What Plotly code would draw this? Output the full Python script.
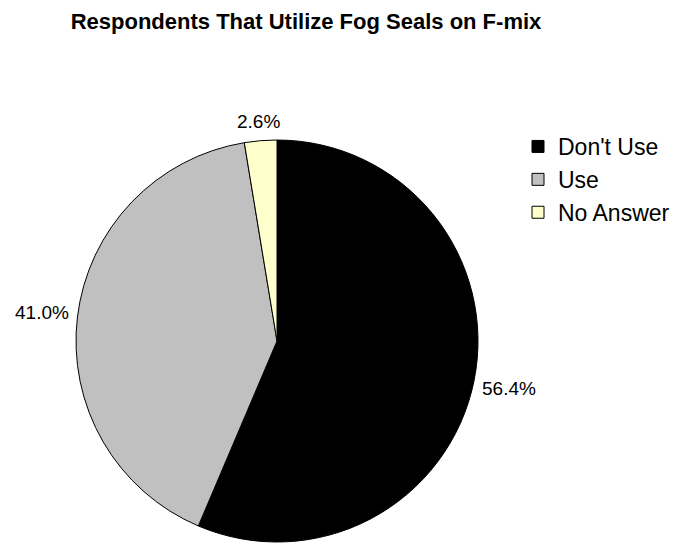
import math
import plotly.graph_objects as go

categories = ["Don't Use", "Use", "No Answer"]
shares = [56.4, 41.0, 2.6]
slice_colors = ["#000000", "#C0C0C0", "#FFFFCC"]

W, H = 680, 544
cx, cy, r = 277, 341, 201  # pie centre and radius in pixels
FONT = "Liberation Sans, Arial, sans-serif"
label_size = 19

fig = go.Figure(
    go.Pie(
        labels=categories,
        values=shares,
        sort=False,
        direction="clockwise",
        rotation=0,
        marker=dict(colors=slice_colors, line=dict(color="#000000", width=1)),
        textinfo="none",
        domain=dict(x=[(cx - r) / W, (cx + r) / W], y=[1 - (cy + r) / H, 1 - (cy - r) / H]),
        hoverinfo="label+percent",
    )
)

# percentage labels placed just outside each slice, at its mid-angle
total = sum(shares)
start = 0.0
annotations = []
for v in shares:
    mid = (start + v / 2) / total * 2 * math.pi  # clockwise from 12 o'clock
    start += v
    text = f"{v:.1f}%"
    half_w = 0.55 * label_size * len(text) / 2
    half_h = label_size / 2
    s, c = math.sin(mid), math.cos(mid)
    d = r + 8.5 + half_w * abs(s) + half_h * abs(c)
    annotations.append(
        dict(
            x=(cx + d * s) / W,
            y=1 - (cy - d * c) / H,
            xref="paper",
            yref="paper",
            text=text,
            showarrow=False,
            xanchor="center",
            yanchor="middle",
            font=dict(family=FONT, size=label_size, color="#000000"),
        )
    )

fig.update_layout(
    width=W,
    height=H,
    margin=dict(l=0, r=0, t=0, b=0),
    paper_bgcolor="#FFFFFF",
    plot_bgcolor="#FFFFFF",
    annotations=annotations,
    title=dict(
        text="<b>Respondents That Utilize Fog Seals on F-mix</b>",
        x=306 / W,
        xanchor="center",
        y=1 - 21 / H,
        yanchor="middle",
        font=dict(family=FONT, size=22, color="#000000"),
    ),
    legend=dict(
        x=518 / W,
        y=1 - 125 / H,
        xanchor="left",
        yanchor="top",
        font=dict(family=FONT, size=23, color="#000000"),
        itemwidth=30,
        tracegroupgap=0,
        bgcolor="rgba(0,0,0,0)",
    ),
)

fig.write_html("out.html")
